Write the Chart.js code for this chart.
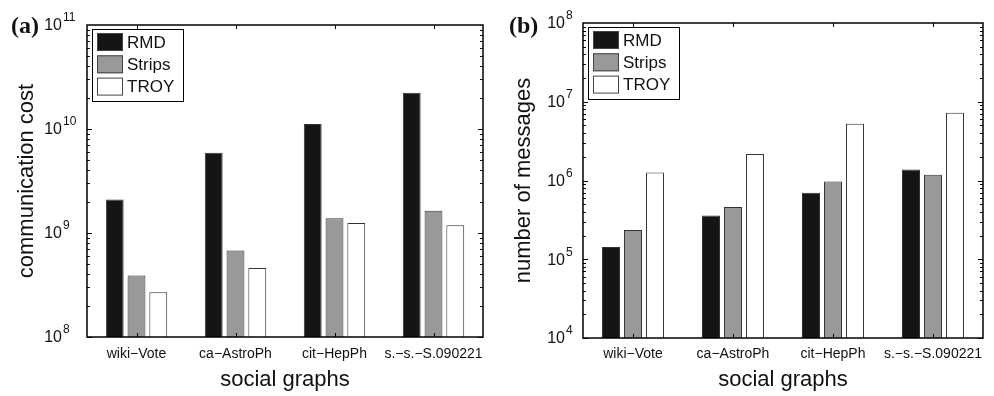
<!DOCTYPE html>
<html>
<head>
<meta charset="utf-8">
<script src="https://cdn.jsdelivr.net/npm/chart.js@4/dist/chart.umd.min.js"></script>
<style>
  html, body { margin: 0; padding: 0; background: #fff; }
  #wrap { position: relative; width: 994px; height: 396px; }
  canvas { position: absolute; top: 0; }
</style>
</head>
<body>
<div id="wrap">
  <canvas id="costChart" width="497" height="396" style="left:0"></canvas>
  <canvas id="msgChart" width="497" height="396" style="left:497px"></canvas>
</div>
<script>
// --------------------
// Data
// --------------------
const categories = ['wiki\u2212Vote', 'ca\u2212AstroPh', 'cit\u2212HepPh', 's.\u2212s.\u2212S.090221'];
const seriesNames = ['RMD', 'Strips', 'TROY'];

// (a) communication cost
const costRMD    = [2.1e9, 5.9e9, 1.12e10, 2.23e10];
const costStrips = [3.9e8, 6.8e8, 1.39e9, 1.64e9];
const costTROY   = [2.7e8, 4.6e8, 1.25e9, 1.19e9];
const costExponents = [8, 9, 10, 11];

// (b) number of messages
const msgRMD    = [1.43e5, 3.6e5, 7.0e5, 1.38e6];
const msgStrips = [2.35e5, 4.6e5, 9.7e5, 1.18e6];
const msgTROY   = [1.26e6, 2.17e6, 5.25e6, 7.25e6];
const msgExponents = [4, 5, 6, 7, 8];

const fills = ['#151515', '#999999', '#ffffff'];
const SANS = '"Liberation Sans", Arial, Helvetica, sans-serif';
const SERIF = '"Liberation Serif", "Times New Roman", serif';

// --------------------
// Decorations: frame, inward ticks, labels, legend
// --------------------
const matlabAxes = {
  id: 'matlabAxes',
  afterDatasetsDraw(chart, args, opts) {
    const ctx = chart.ctx;
    const area = chart.chartArea;
    const y = chart.scales.y;
    const x = chart.scales.x;
    ctx.save();
    ctx.strokeStyle = '#000';
    ctx.lineWidth = 1;
    // log ticks on left and right
    for (let e = opts.exps[0]; e < opts.exps[opts.exps.length - 1]; e++) {
      for (let m = 1; m <= 9; m++) {
        const py = Math.round(y.getPixelForValue(m * Math.pow(10, e))) + 0.5;
        const len = m === 1 ? 5 : 3;
        ctx.beginPath();
        ctx.moveTo(area.left, py); ctx.lineTo(area.left + len, py);
        ctx.moveTo(area.right, py); ctx.lineTo(area.right - len, py);
        ctx.stroke();
      }
    }
    // category ticks top and bottom
    categories.forEach((c, i) => {
      const px = Math.round(x.getPixelForValue(i)) + 0.5;
      ctx.beginPath();
      ctx.moveTo(px, area.top); ctx.lineTo(px, area.top + 4);
      ctx.moveTo(px, area.bottom); ctx.lineTo(px, area.bottom - 4);
      ctx.stroke();
    });
    // frame
    ctx.lineWidth = 1.5;
    ctx.strokeRect(area.left, area.top, area.right - area.left, area.bottom - area.top);

    // legend box
    const lx = area.left + 5, ly = area.top + 4;
    ctx.fillStyle = '#fff';
    ctx.fillRect(lx, ly, 91, 72);
    ctx.lineWidth = 1;
    ctx.strokeStyle = '#000';
    ctx.strokeRect(lx + 0.5, ly + 0.5, 91, 72);
    ctx.font = '17px ' + SANS;
    ctx.textBaseline = 'middle';
    ctx.textAlign = 'left';
    chart.data.datasets.forEach((ds, i) => {
      const sy = ly + 4 + i * 22.3;
      ctx.fillStyle = ds.backgroundColor;
      ctx.fillRect(lx + 5, sy, 26, 18);
      ctx.strokeStyle = '#444';
      ctx.strokeRect(lx + 5.5, sy + 0.5, 25, 17);
      ctx.fillStyle = '#111';
      ctx.fillText(ds.label, lx + 35, sy + 10);
    });
    ctx.restore();
  },
  afterDraw(chart, args, opts) {
    const ctx = chart.ctx;
    const area = chart.chartArea;
    const y = chart.scales.y;
    const x = chart.scales.x;
    ctx.save();
    ctx.fillStyle = '#111';
    ctx.textBaseline = 'middle';
    // y tick labels 10^e
    opts.exps.forEach(e => {
      const py = y.getPixelForValue(Math.pow(10, e));
      ctx.font = '16px ' + SANS;
      ctx.textAlign = 'right';
      ctx.fillText('10', opts.baseRight, py + 1);
      ctx.font = '12px ' + SANS;
      ctx.textAlign = 'left';
      ctx.fillText(String(e), opts.baseRight + 1, py - 7);
    });
    // category labels
    ctx.font = '14px ' + SANS;
    ctx.textAlign = 'center';
    categories.forEach((c, i) => ctx.fillText(c, x.getPixelForValue(i), 354));
    // x title
    ctx.font = '22px ' + SANS;
    ctx.fillText('social graphs', (area.left + area.right) / 2, 380);
    // y title
    ctx.save();
    ctx.translate(opts.yTitleX, (area.top + area.bottom) / 2);
    ctx.rotate(-Math.PI / 2);
    ctx.fillText(opts.yTitle, 0, 0);
    ctx.restore();
    // panel letter
    ctx.font = 'bold 24px ' + SERIF;
    ctx.textAlign = 'left';
    ctx.fillText(opts.panel, opts.panelX, 27);
    ctx.restore();
  }
};

function makeChart(id, values, exps, pad, decor) {
  const datasets = values.map((v, i) => ({
    label: seriesNames[i],
    data: v,
    backgroundColor: fills[i],
    borderColor: '#333',
    borderWidth: 1,
    categoryPercentage: 0.66,
    barPercentage: 0.82
  }));
  return new Chart(document.getElementById(id), {
    type: 'bar',
    data: { labels: categories, datasets },
    options: {
      responsive: false,
      animation: false,
      devicePixelRatio: 1,
      layout: { padding: pad },
      plugins: {
        legend: { display: false },
        tooltip: { enabled: false },
        matlabAxes: Object.assign({ exps }, decor)
      },
      scales: {
        x: { type: 'category', offset: true, display: false },
        y: {
          type: 'logarithmic',
          min: Math.pow(10, exps[0]),
          max: Math.pow(10, exps[exps.length - 1]),
          display: false
        }
      }
    },
    plugins: [matlabAxes]
  });
}

makeChart('costChart', [costRMD, costStrips, costTROY], costExponents,
  { left: 87, right: 14, top: 25, bottom: 59 },
  { baseRight: 62, yTitle: 'communication cost', yTitleX: 27, panel: '(a)', panelX: 11 });

makeChart('msgChart', [msgRMD, msgStrips, msgTROY], msgExponents,
  { left: 86, right: 11, top: 23, bottom: 58 },
  { baseRight: 68, yTitle: 'number of messages', yTitleX: 27, panel: '(b)', panelX: 12 });
</script>
</body>
</html>
